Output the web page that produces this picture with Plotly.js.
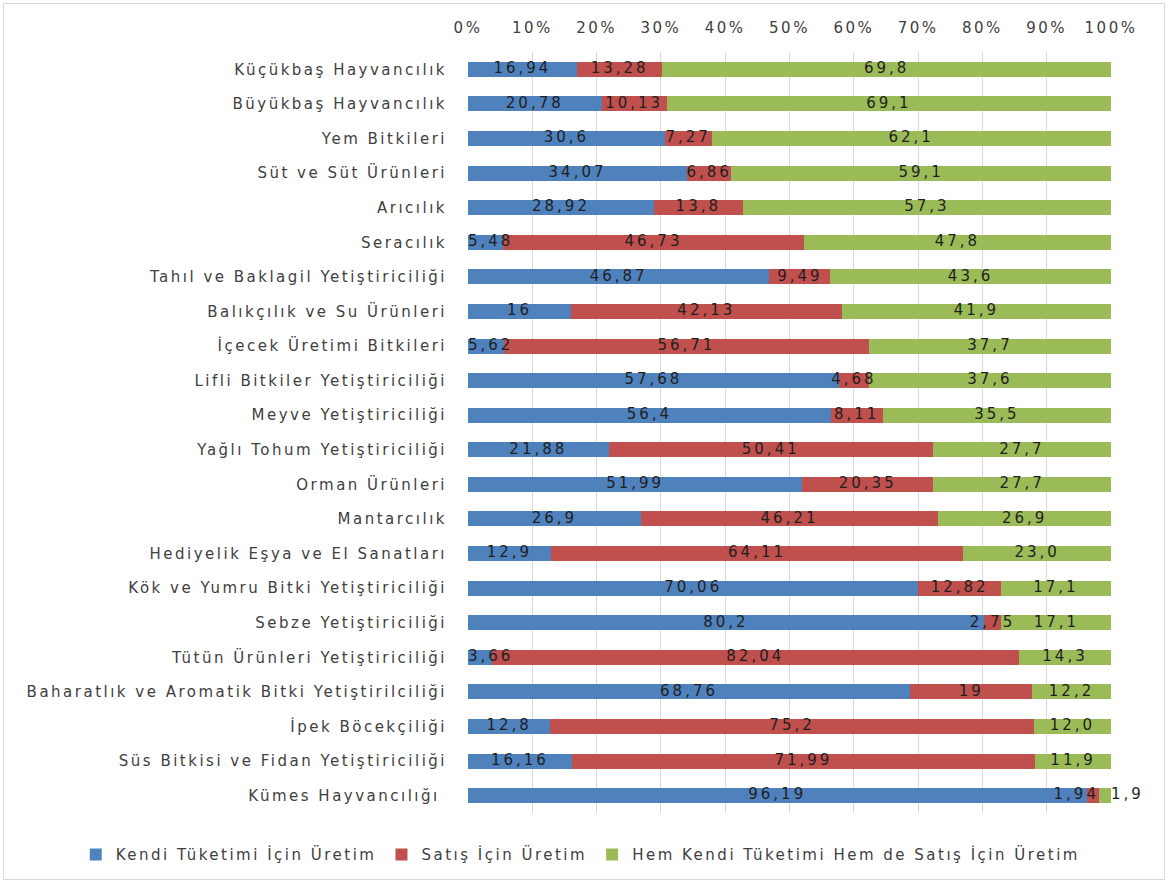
<!DOCTYPE html>
<html><head><meta charset="utf-8">
<script src="https://cdn.plot.ly/plotly-3.0.1.min.js"></script>
<style>
html,body{margin:0;padding:0;background:#fff;}
#chart{position:absolute;left:0;top:0;width:1168px;height:883px;}
#frame{position:absolute;left:3px;top:3px;width:1160px;height:875px;border:1px solid #d9d9d9;pointer-events:none;}
svg text{letter-spacing:2.5px;}
svg .textpoint text{letter-spacing:3px;}
</style></head>
<body>
<div id="chart"></div><div id="frame"></div>
<script>
const categories = ["Küçükbaş Hayvancılık","Büyükbaş Hayvancılık","Yem Bitkileri","Süt ve Süt Ürünleri","Arıcılık","Seracılık","Tahıl ve Baklagil Yetiştiriciliği","Balıkçılık ve Su Ürünleri","İçecek Üretimi Bitkileri","Lifli Bitkiler Yetiştiriciliği","Meyve Yetiştiriciliği","Yağlı Tohum Yetiştiriciliği","Orman Ürünleri","Mantarcılık","Hediyelik Eşya ve El Sanatları","Kök ve Yumru Bitki Yetiştiriciliği","Sebze Yetiştiriciliği","Tütün Ürünleri Yetiştiriciliği","Baharatlık ve Aromatik Bitki Yetiştirilciliği","İpek Böcekçiliği","Süs Bitkisi ve Fidan Yetiştiriciliği","Kümes Hayvancılığı "];
const kendi = [16.94,20.78,30.6,34.07,28.92,5.48,46.87,16,5.62,57.68,56.4,21.88,51.99,26.9,12.9,70.06,80.2,3.66,68.76,12.8,16.16,96.19];
const satis = [13.28,10.13,7.27,6.86,13.8,46.73,9.49,42.13,56.71,4.68,8.11,50.41,20.35,46.21,64.11,12.82,2.75,82.04,19,75.2,71.99,1.94];
const hem = [69.8,69.1,62.1,59.1,57.3,47.8,43.6,41.9,37.7,37.6,35.5,27.7,27.7,26.9,23.0,17.1,17.1,14.3,12.2,12.0,11.9,1.9];
const seriesNames = ["Kendi Tüketimi İçin Üretim","Satış İçin Üretim","Hem Kendi Tüketimi Hem de Satış İçin Üretim"];
const colors = ['#4f81bd','#c0504d','#9bbb59'];
const xTicks = [0,10,20,30,40,50,60,70,80,90,100];

const FONT = "DejaVu Sans, sans-serif";
const fmt = v => String(v).replace('.', ',');
const fmt1 = v => v.toFixed(1).replace('.', ',');
const series = [kendi, satis, hem];
const labels = [kendi.map(fmt), satis.map(fmt), hem.map(fmt1)];

const data = [];
series.forEach((vals, i) => {
  data.push({type:'bar', orientation:'h', name:seriesNames[i], y:categories, x:vals,
    marker:{color:colors[i]}, hoverinfo:'x+y+name'});
});
// data labels drawn on top of all bars
series.forEach((vals, i) => {
  const xs = [], pos = [];
  vals.forEach((v, j) => {
    let start = 0;
    for (let k = 0; k < i; k++) start += series[k][j];
    if (i === 2 && v < 5) { xs.push(Math.min(start + v, 100)); pos.push('middle right'); }
    else if (i === 1 && hem[j] < 5) { xs.push(start + v); pos.push('middle left'); }
    else if (i === 0 && v < 8) { xs.push(0); pos.push('middle right'); }
    else { xs.push(start + v / 2); pos.push('middle center'); }
  });
  data.push({type:'scatter', mode:'text', y:categories, x:xs, text:labels[i],
    textposition:pos, showlegend:false, hoverinfo:'skip', cliponaxis:false,
    textfont:{family:FONT, size:15, color:'#1f1f1f'}});
});

const layout = {
  width:1168, height:883,
  margin:{l:468, r:57, t:52, b:70},
  barmode:'stack', bargap:0.566,
  paper_bgcolor:'#fff', plot_bgcolor:'#fff',
  font:{family:FONT, color:'#404040', size:15},
  showlegend:true,
  legend:{orientation:'h', x:-0.61, xanchor:'left', y:-0.055, yanchor:'middle', traceorder:'normal', font:{size:15, color:'#404040'}},
  xaxis:{side:'top', range:[0,100], tickvals:xTicks, ticktext:xTicks.map(v=>v+'%'), showgrid:true, gridcolor:'#d9d9d9', gridwidth:1, zeroline:false, showline:false, ticks:'outside', ticklen:12, tickcolor:'rgba(0,0,0,0)', fixedrange:true, tickfont:{size:15,color:'#404040'}},
  yaxis:{range:[categories.length - 0.5, -0.5], ticks:'', showline:false, showgrid:false, ticklabelstandoff:20, tickfont:{size:15,color:'#404040'}}
};
Plotly.newPlot('chart', data, layout, {displayModeBar:false, staticPlot:true});
</script>
</body></html>
